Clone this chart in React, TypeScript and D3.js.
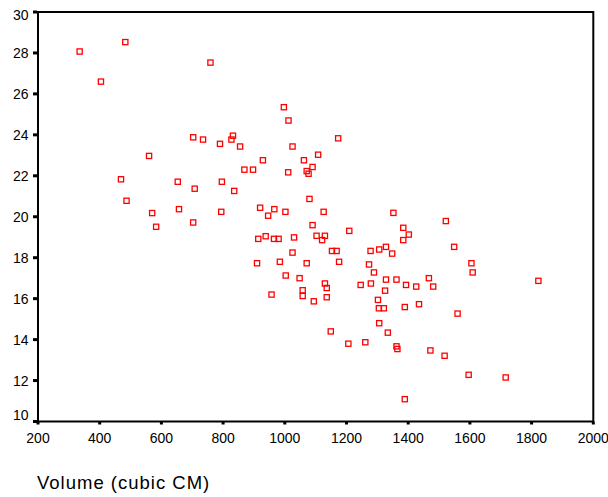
import React from "react";
import * as d3 from "d3";

const volumes = [
  335, 483, 404, 759, 997, 1012, 703, 735, 790, 832, 827, 855, 1025, 560, 929, 869, 897, 1011, 1062, 1071,
  1077, 1090, 1108, 1173, 469, 487, 653, 708, 796, 836, 1080, 1126, 1352, 1522, 570, 583, 657, 703, 794, 920,
  946, 966, 1002, 914, 938, 965, 980, 1030, 910, 984, 1025, 1071, 1003, 1048, 957, 1058, 1058, 1090, 1103, 1130,
  1121, 1209, 1384, 1402, 1384, 1549, 1153, 1168, 1278, 1306, 1328, 1348, 1176, 1273, 1289, 1605, 1609, 1822, 1130, 1136,
  1136, 1094, 1246, 1279, 1328, 1362, 1325, 1393, 1426, 1467, 1481, 1302, 1305, 1321, 1389, 1435, 1560, 1306, 1149, 1334,
  1206, 1261, 1362, 1365, 1472, 1518, 1596, 1716, 1389,
];
const values = [
  28.07, 28.53, 26.6, 27.53, 25.35, 24.7, 23.88, 23.77, 23.56, 23.96, 23.77, 23.43, 23.43, 22.97, 22.76, 22.3, 22.3, 22.17, 22.76, 22.23,
  22.1, 22.43, 23.03, 23.83, 21.83, 20.78, 21.71, 21.37, 21.71, 21.26, 20.87, 20.24, 20.19, 19.79, 20.18, 19.51, 20.37, 19.72, 20.24, 20.44,
  20.05, 20.37, 20.24, 18.92, 19.05, 18.92, 18.92, 18.99, 17.73, 17.8, 18.25, 17.73, 17.13, 17.0, 16.2, 16.41, 16.13, 19.59, 19.07, 19.07,
  18.86, 19.31, 19.46, 19.13, 18.86, 18.53, 18.33, 18.33, 18.33, 18.4, 18.53, 18.2, 17.8, 17.67, 17.28, 17.73, 17.28, 16.87, 16.74, 16.52,
  16.07, 15.87, 16.67, 16.74, 16.93, 16.93, 16.39, 16.67, 16.59, 17.0, 16.59, 15.94, 15.53, 15.53, 15.59, 15.73, 15.27, 14.8, 14.4, 14.34,
  13.8, 13.87, 13.67, 13.54, 13.47, 13.21, 12.28, 12.15, 11.09,
];
const xTicks = [200, 400, 600, 800, 1000, 1200, 1400, 1600, 1800, 2000];
const yTicks = [10, 12, 14, 16, 18, 20, 22, 24, 26, 28, 30];
const xTitle = "Volume (cubic CM)";

const W = 608;
const H = 497;
const font = "'Liberation Sans', Arial, Helvetica, sans-serif";

export default function App() {
  const x = d3.scaleLinear().domain([200, 2000]).range([38, 593.3]);
  const y = d3.scaleLinear().domain([10, 30]).range([421.5, 12]);
  const [x0, x1] = x.range();
  const [yb, yt] = y.range();

  return (
    <svg width={W} height={H} style={{ position: "absolute", left: 0, top: 0, background: "#fff" }}>
      <rect x={0} y={0} width={W} height={H} fill="#fff" />
      {/* points */}
      <g>
        {volumes.map((v, i) => (
          <rect
            key={i}
            x={x(v) - 2.6}
            y={y(values[i]) - 2.6}
            width={5.2}
            height={5.2}
            fill="none"
            stroke="#ff0000"
            strokeWidth={1.3}
          />
        ))}
      </g>
      {/* frame */}
      <rect x={x0} y={yt} width={x1 - x0} height={yb - yt} fill="none" stroke="#000" strokeWidth={2} />
      {/* y ticks */}
      {yTicks.map((t) => {
        const py = y(t);
        const ly = Math.min(Math.max(py, 14.5), 415);
        return (
          <g key={"y" + t}>
            <rect x={33} y={py - 1.5} width={4} height={3} fill="#000" />
            <text
              x={28.5}
              y={ly}
              dy="0.36em"
              textAnchor="end"
              fontFamily={font}
              fontSize={14}
              fill="#000"
            >
              {t}
            </text>
          </g>
        );
      })}
      {/* x ticks */}
      {xTicks.map((t) => {
        const px = x(t);
        return (
          <g key={"x" + t}>
            <rect x={px - 1.5} y={yb} width={3} height={3} fill="#000" />
            <text x={px} y={443} textAnchor="middle" fontFamily={font} fontSize={14} fill="#000">
              {t}
            </text>
          </g>
        );
      })}
      <text x={37} y={489} fontFamily={font} fontSize={18.5} letterSpacing={1} fill="#000">
        {xTitle}
      </text>
    </svg>
  );
}
